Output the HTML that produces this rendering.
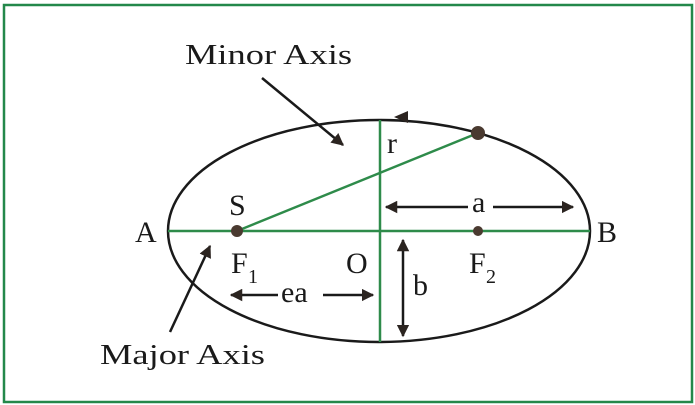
<!DOCTYPE html>
<html><head><meta charset="utf-8"><style>
html,body{margin:0;padding:0;background:#fff;width:695px;height:405px;overflow:hidden}
svg{display:block}
text{font-family:"Liberation Serif",serif;fill:#1a1a1a}
</style></head><body>
<svg width="695" height="405" viewBox="0 0 695 405" xmlns="http://www.w3.org/2000/svg">
<defs>
<marker id="ah" viewBox="0 0 10 10" refX="9" refY="5" markerWidth="5" markerHeight="5" orient="auto-start-reverse">
<path d="M0,0 L10,5 L0,10 z" fill="#2b2420"/></marker>
</defs>
<rect x="4" y="5" width="688" height="397" fill="#fff" stroke="#23884a" stroke-width="2.5"/>
<ellipse cx="379" cy="231" rx="211" ry="111" fill="none" stroke="#1a1a1a" stroke-width="2.5"/>
<line x1="168" y1="231" x2="590" y2="231" stroke="#2e8b4a" stroke-width="2.5"/>
<line x1="380" y1="120" x2="380" y2="342" stroke="#2e8b4a" stroke-width="2.5"/>
<line x1="237" y1="231" x2="478" y2="133" stroke="#2e8b4a" stroke-width="2.5"/>
<path d="M394,117 L408,111 L408,123 z" fill="#2b2420"/>
<circle cx="237" cy="231" r="6" fill="#4a3a30"/>
<circle cx="478" cy="231" r="5" fill="#4a3a30"/>
<circle cx="478" cy="133" r="7" fill="#4a3a30"/>
<line x1="262" y1="78" x2="343" y2="145" stroke="#1a1a1a" stroke-width="2.5" marker-end="url(#ah)"/>
<line x1="170" y1="332" x2="210" y2="246" stroke="#1a1a1a" stroke-width="2.5" marker-end="url(#ah)"/>
<line x1="386" y1="207" x2="468" y2="207" stroke="#1a1a1a" stroke-width="2.5" marker-start="url(#ah)"/>
<line x1="493" y1="207" x2="573" y2="207" stroke="#1a1a1a" stroke-width="2.5" marker-end="url(#ah)"/>
<line x1="231" y1="295" x2="278" y2="295" stroke="#1a1a1a" stroke-width="2.5" marker-start="url(#ah)"/>
<line x1="323" y1="295" x2="373" y2="295" stroke="#1a1a1a" stroke-width="2.5" marker-end="url(#ah)"/>
<line x1="403" y1="240" x2="403" y2="336" stroke="#1a1a1a" stroke-width="2.5" marker-start="url(#ah)" marker-end="url(#ah)"/>
<text x="185" y="64" font-size="29" textLength="167" lengthAdjust="spacingAndGlyphs">Minor Axis</text>
<text x="100" y="364" font-size="29" textLength="165" lengthAdjust="spacingAndGlyphs">Major Axis</text>
<text x="135" y="242" font-size="30">A</text>
<text x="597" y="242" font-size="30">B</text>
<text x="229" y="215" font-size="30">S</text>
<text x="231" y="273" font-size="30">F</text>
<text x="248" y="283" font-size="20">1</text>
<text x="346" y="273" font-size="30">O</text>
<text x="469" y="273" font-size="30">F</text>
<text x="486" y="283" font-size="20">2</text>
<text x="387" y="153" font-size="30">r</text>
<text x="472" y="212" font-size="30">a</text>
<text x="281" y="302" font-size="30">ea</text>
<text x="413" y="295" font-size="30">b</text>
</svg>
</body></html>
